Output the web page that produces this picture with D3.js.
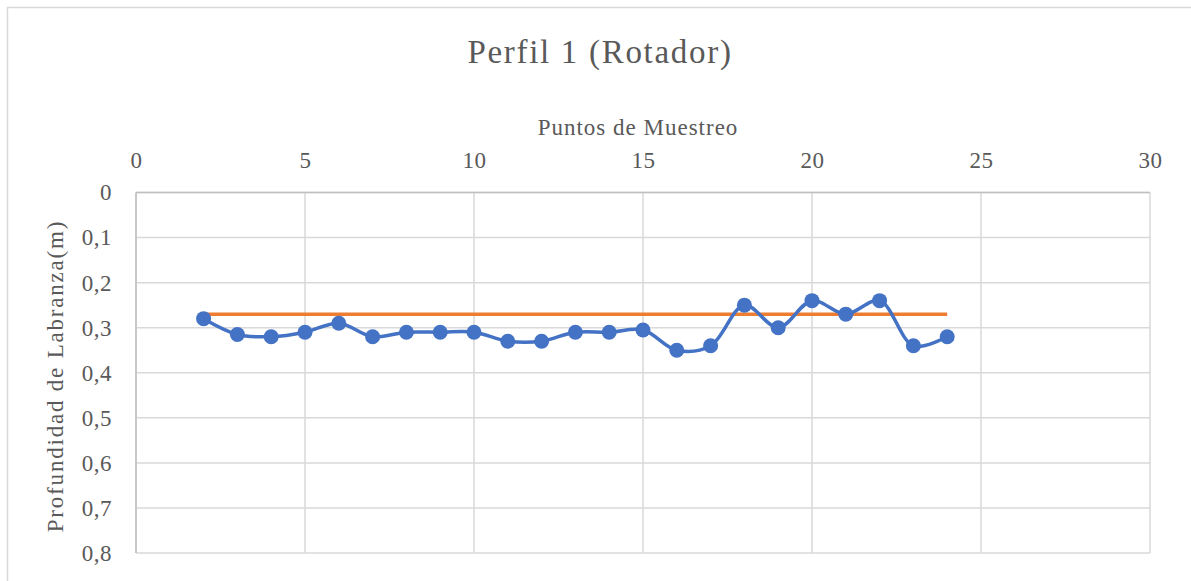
<!DOCTYPE html>
<html><head><meta charset="utf-8">
<script src="https://cdn.jsdelivr.net/npm/d3@7"></script>
<style>body{margin:0;background:#fff;} svg{display:block;} text{font-family:'Liberation Serif','Times New Roman',serif;}</style>
</head><body>
<svg id="c" width="1191" height="581"></svg>
<script>
const xPoints = [2,3,4,5,6,7,8,9,10,11,12,13,14,15,16,17,18,19,20,21,22,23,24];
const depthValues = [0.28,0.315,0.32,0.31,0.29,0.32,0.31,0.31,0.31,0.33,0.33,0.31,0.31,0.305,0.35,0.34,0.25,0.30,0.24,0.27,0.24,0.34,0.32];
const referenceValues = [0.27,0.27,0.27,0.27,0.27,0.27,0.27,0.27,0.27,0.27,0.27,0.27,0.27,0.27,0.27,0.27,0.27,0.27,0.27,0.27,0.27,0.27,0.27];
const xTicks = [0,5,10,15,20,25,30];
const yTicks = [0,0.1,0.2,0.3,0.4,0.5,0.6,0.7,0.8];
const titleText = "Perfil 1 (Rotador)";
const xTitle = "Puntos de Muestreo";
const yTitle = "Profundidad de Labranza(m)";

const svg = d3.select("#c");
const font = "'Liberation Serif','Times New Roman',serif";
const textCol = "#595959";

svg.append("rect").attr("x",7.5).attr("y",7.5).attr("width",1200).attr("height",600)
  .attr("fill","#fff").attr("stroke","#d9d9d9").attr("stroke-width",1.5);

const L=136, R=1150, T=192.5, B=553;
const x = d3.scaleLinear().domain([0,30]).range([L,R]);
const y = d3.scaleLinear().domain([0,0.8]).range([T,B]);

const g = svg.append("g");
g.selectAll(".vg").data(xTicks).join("line")
  .attr("x1",d=>x(d)).attr("x2",d=>x(d)).attr("y1",T).attr("y2",B)
  .attr("stroke","#d9d9d9").attr("stroke-width",1.5);
g.selectAll(".hg").data(yTicks).join("line")
  .attr("x1",L).attr("x2",R).attr("y1",d=>y(d)).attr("y2",d=>y(d))
  .attr("stroke","#d9d9d9").attr("stroke-width",1.5);
g.append("line").attr("x1",L).attr("x2",L).attr("y1",T).attr("y2",B).attr("stroke","#bfbfbf").attr("stroke-width",1.5);
g.append("line").attr("x1",L).attr("x2",R).attr("y1",T).attr("y2",T).attr("stroke","#bfbfbf").attr("stroke-width",1.5);

const fmt = d => d===0 ? "0" : d3.format(".1f")(d).replace(".",",");
const xAxis = svg.append("g").attr("transform",`translate(0,${T})`)
  .call(d3.axisTop(x).tickValues(xTicks).tickSize(0).tickPadding(25).tickFormat(d3.format("d")));
const yAxis = svg.append("g").attr("transform",`translate(${L},0)`)
  .call(d3.axisLeft(y).tickValues(yTicks).tickSize(0).tickPadding(24).tickFormat(fmt));
[xAxis,yAxis].forEach(a=>{
  a.attr("font-family",null).attr("font-size",null);
  a.select(".domain").remove();
  a.selectAll("text").style("font-family",font).style("font-size","23px").style("letter-spacing","0.5px").attr("fill",textCol);
});

const pts = xPoints.map((d,i)=>({x:d,y:depthValues[i]}));
const ref = xPoints.map((d,i)=>({x:d,y:referenceValues[i]}));
svg.append("path").datum(ref)
  .attr("d",d3.line().x(d=>x(d.x)).y(d=>y(d.y)))
  .attr("fill","none").attr("stroke","#ED7D31").attr("stroke-width",3.5);
svg.append("path").datum(pts)
  .attr("d",d3.line().x(d=>x(d.x)).y(d=>y(d.y)).curve(d3.curveCatmullRom.alpha(0.5)))
  .attr("fill","none").attr("stroke","#4472C4").attr("stroke-width",3.5);
svg.selectAll(".pt").data(pts).join("circle")
  .attr("cx",d=>x(d.x)).attr("cy",d=>y(d.y)).attr("r",7.5).attr("fill","#4472C4");

svg.append("text").attr("x",600).attr("y",63).attr("text-anchor","middle")
  .style("font-family",font).style("font-size","33px").style("letter-spacing","1.7px").attr("fill",textCol).text(titleText);
svg.append("text").attr("x",638).attr("y",135).attr("text-anchor","middle")
  .style("font-family",font).style("font-size","23px").style("letter-spacing","1px").attr("fill",textCol).text(xTitle);
svg.append("text").attr("transform",`translate(63,376) rotate(-90)`).attr("text-anchor","middle")
  .style("font-family",font).style("font-size","23px").style("letter-spacing","1.8px").attr("fill",textCol).text(yTitle);
</script>
</body></html>
